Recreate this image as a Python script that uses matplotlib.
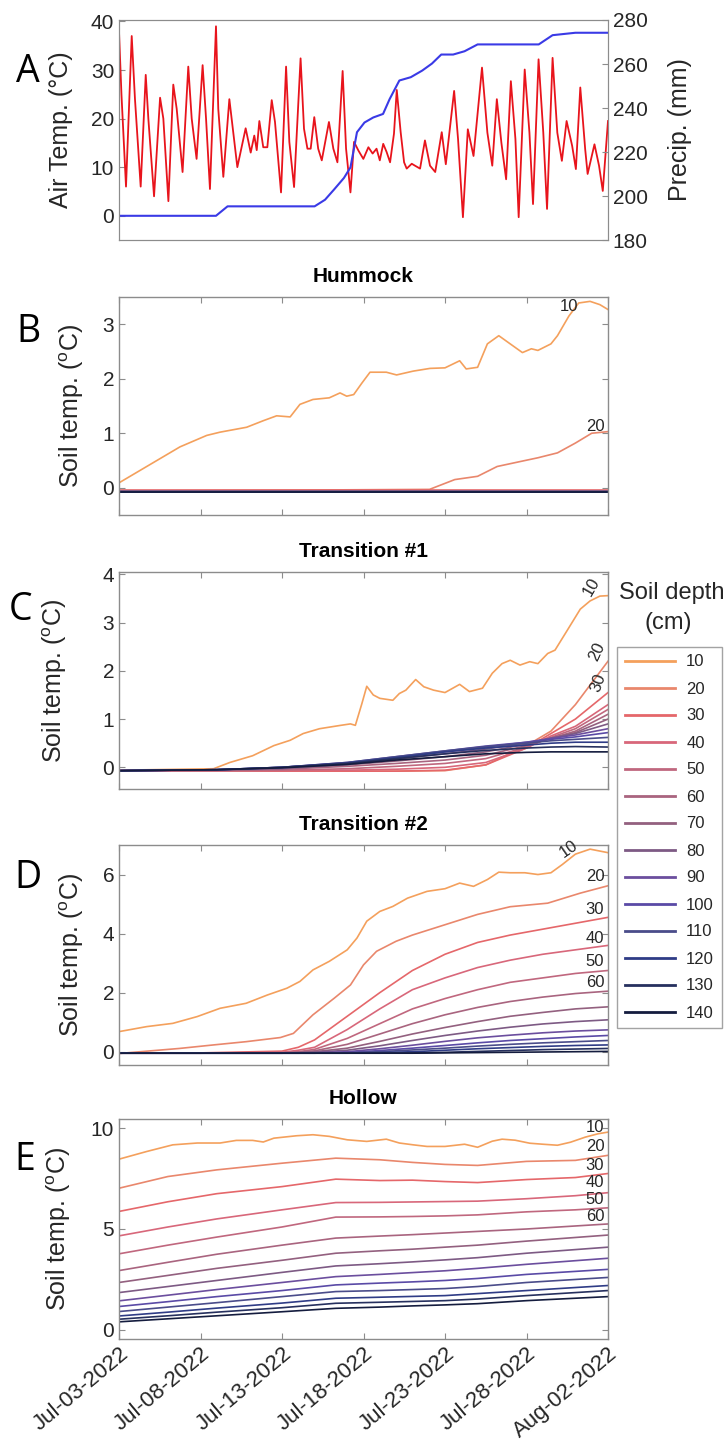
import numpy as np
import matplotlib
matplotlib.use('Agg')
import matplotlib.pyplot as plt
import matplotlib.dates as mdates
from matplotlib.lines import Line2D
from datetime import datetime

plt.rcParams['font.family'] = ['Liberation Sans', 'DejaVu Sans']
plt.rcParams['mathtext.default'] = 'regular'

start = mdates.date2num(datetime(2022, 7, 3))

# ---- A: air temperature and cumulative precipitation (days since Jul-03)
air_day = [0.0, 0.15, 0.43, 0.78, 0.98, 1.33, 1.64, 1.8, 2.15, 2.52, 2.72, 3.03, 3.33, 3.54, 3.9,
           4.25, 4.46, 4.76, 5.13, 5.34, 5.58, 5.95, 6.09, 6.4, 6.77, 7.26, 7.77, 8.08, 8.3, 8.45,
           8.61, 8.85, 9.1, 9.37, 9.57, 9.94, 10.25, 10.45, 10.74, 11.14, 11.35, 11.56, 11.76, 11.98,
           12.22, 12.44, 12.88, 13.15, 13.4, 13.72, 13.93, 14.2, 14.42, 14.69, 14.99, 15.3, 15.56,
           15.8, 16.0, 16.21, 16.42, 16.63, 16.87, 17.04, 17.28, 17.49, 17.65, 17.96, 18.16, 18.47,
           18.77, 19.08, 19.4, 19.8, 20.05, 20.56, 20.8, 21.1, 21.4, 21.75, 22.27, 22.6, 22.9, 23.18,
           23.46, 23.75, 24.04, 24.32, 24.52, 24.89, 25.18, 25.4, 25.74, 26.03, 26.26, 26.6, 26.89,
           27.17, 27.46, 27.8, 28.03, 28.3, 28.6, 28.75, 29.17, 29.45, 29.68, 30.0]
air_temp = [38, 25, 6, 37, 24, 6, 29, 20, 4, 24.3, 20, 3, 27, 22, 9,
            30.7, 20, 11.7, 31, 20, 5.5, 39, 22, 8, 24, 10, 18, 13, 16.5, 13.5,
            19.5, 14.1, 14.1, 23.8, 19.3, 4.8, 30.7, 15.2, 5.9, 32.4, 17.9, 13.8, 13.8, 20.3,
            13.8, 11.4, 19.3, 13.8, 11, 29.8, 13.8, 4.8, 15.2, 13.4, 11.7, 14.1, 12.8,
            13.8, 11.4, 14.8, 13.1, 11, 16.9, 25.9, 17.2, 11, 9.7, 10.7, 10.3, 9.7,
            15.5, 10.3, 9, 17.2, 10.6, 25.7, 15.8, -0.3, 17.8, 12.3, 30.5, 17.1, 10.3, 24,
            15, 7.5, 27.7, 15.8, -0.3, 30.1, 17.1, 2.4, 32.2, 17.1, 1.4, 32.5, 17.1,
            11.3, 19.5, 14.4, 9.6, 26.4, 13.7, 8.6, 14.7, 10.3, 5.1, 19.5]
precip_day = [0, 5.95, 6.66, 12.0, 12.64, 13.2, 13.8, 14.2, 14.6, 15.06, 15.6, 16.2, 16.6, 17.2,
              17.9, 18.6, 19.2, 19.77, 20.5, 21.2, 22.0, 25.75, 26.6, 28.0, 30.0]
precip_mm = [191, 191, 195.3, 195.3, 198.3, 203, 208.2, 213, 229, 233.4, 235.7, 237.3, 244, 252.5,
             254, 257, 260.2, 264.3, 264.3, 265.8, 268.9, 268.9, 273.1, 274.2, 274.2]

depths = [10, 20, 30, 40, 50, 60, 70, 80, 90, 100, 110, 120, 130, 140]

# ---- B: Hummock
hum_d10_day = [0, 1.7, 3.74, 5.38, 6.2, 7.83, 8.85, 9.67, 10.5, 11.1, 11.9, 12.9, 13.56, 13.97,
               14.4, 14.9, 15.4, 16.4, 17.03, 18.05, 19.08, 20.0, 20.9, 21.3, 22.0, 22.6, 23.3,
               24.0, 24.75, 25.3, 25.7, 26.5, 26.9, 27.6, 28.2, 28.9, 29.5, 30.0]
hum_d10 = [0.09, 0.39, 0.75, 0.96, 1.02, 1.11, 1.23, 1.32, 1.3, 1.53, 1.62, 1.65, 1.74, 1.68,
           1.71, 1.92, 2.12, 2.12, 2.07, 2.14, 2.19, 2.2, 2.33, 2.18, 2.21, 2.64, 2.79,
           2.64, 2.48, 2.55, 2.52, 2.64, 2.79, 3.15, 3.39, 3.42, 3.36, 3.27]
hum_d20_day = [0, 19.05, 20.6, 22.0, 23.2, 24.6, 25.7, 26.9, 28.0, 29.0, 30.0]
hum_d20 = [-0.06, -0.03, 0.15, 0.21, 0.39, 0.48, 0.55, 0.64, 0.82, 1.0, 1.03]
hum_deep_day = [0, 30]
hum_deep = [-0.05, -0.055, -0.06, -0.06, -0.065, -0.065, -0.07, -0.07, -0.075, -0.075, -0.08, -0.08]

# ---- C: Transition #1
tr1_d10_day = [0, 5.8, 6.8, 8.2, 9.5, 10.5, 11.3, 12.3, 13.6, 14.2, 14.5, 14.9, 15.2, 15.6, 16.0,
               16.8, 17.2, 17.6, 18.2, 18.7, 19.3, 20.0, 20.9, 21.5, 22.3, 22.9, 23.5, 24.0, 24.6,
               25.2, 25.7, 26.3, 26.75, 27.5, 28.3, 28.9, 29.5, 30.0]
tr1_d10 = [-0.06, -0.03, 0.1, 0.24, 0.45, 0.56, 0.7, 0.8, 0.87, 0.9, 0.87, 1.32, 1.68, 1.5, 1.43,
           1.39, 1.53, 1.6, 1.82, 1.67, 1.6, 1.55, 1.72, 1.57, 1.64, 1.95, 2.15, 2.22, 2.12,
           2.19, 2.15, 2.36, 2.43, 2.84, 3.28, 3.45, 3.55, 3.56]
tr1_day = [0, 6, 10, 14, 17, 20, 22.5, 25, 26.5, 28, 30]
tr1_deep = [
    [-0.07, -0.07, -0.08, -0.08, -0.08, -0.07, 0.05, 0.45, 0.75, 1.3, 2.2],
    [-0.07, -0.07, -0.08, -0.08, -0.08, -0.06, 0.05, 0.4, 0.7, 1.0, 1.55],
    [-0.07, -0.07, -0.07, -0.06, -0.04, 0.0, 0.1, 0.4, 0.65, 0.85, 1.3],
    [-0.07, -0.07, -0.06, -0.03, 0.02, 0.08, 0.18, 0.42, 0.62, 0.8, 1.2],
    [-0.07, -0.06, -0.04, 0.02, 0.08, 0.15, 0.25, 0.45, 0.6, 0.75, 1.1],
    [-0.07, -0.06, -0.03, 0.05, 0.13, 0.22, 0.32, 0.48, 0.6, 0.72, 1.0],
    [-0.07, -0.05, -0.02, 0.07, 0.17, 0.28, 0.38, 0.5, 0.6, 0.7, 0.9],
    [-0.07, -0.05, -0.01, 0.09, 0.2, 0.32, 0.42, 0.52, 0.6, 0.67, 0.8],
    [-0.07, -0.05, 0.0, 0.1, 0.22, 0.34, 0.44, 0.52, 0.58, 0.63, 0.72],
    [-0.07, -0.05, 0.0, 0.1, 0.22, 0.34, 0.43, 0.5, 0.55, 0.58, 0.62],
    [-0.07, -0.05, 0.0, 0.09, 0.2, 0.32, 0.4, 0.46, 0.5, 0.52, 0.52],
    [-0.07, -0.05, 0.0, 0.08, 0.18, 0.28, 0.35, 0.4, 0.42, 0.43, 0.42],
    [-0.07, -0.05, -0.01, 0.06, 0.15, 0.22, 0.28, 0.31, 0.32, 0.32, 0.32],
]

# ---- D: Transition #2
tr2_d10_day = [0, 1.7, 3.3, 4.8, 6.2, 7.8, 9.1, 10.3, 11.1, 11.9, 12.9, 14.0, 14.6, 15.2, 16.0,
               16.8, 17.7, 18.9, 20.0, 20.9, 21.75, 22.6, 23.3, 24.0, 24.9, 25.7, 26.5, 27.2, 28.0,
               28.9, 30.0]
tr2_d10 = [0.68, 0.85, 0.96, 1.19, 1.47, 1.64, 1.92, 2.15, 2.38, 2.77, 3.06, 3.45, 3.85, 4.42, 4.75,
           4.92, 5.2, 5.43, 5.52, 5.71, 5.6, 5.83, 6.08, 6.06, 6.06, 6.0, 6.06, 6.34, 6.69,
           6.86, 6.74]
tr2_d20_day = [0, 3.7, 5.8, 7.8, 9.9, 10.7, 11.9, 13.2, 14.2, 15.0, 15.8, 17.0, 18.0, 20.0, 22.0,
               24.0, 26.3, 28.3, 30.0]
tr2_d20 = [-0.06, 0.11, 0.23, 0.34, 0.48, 0.62, 1.25, 1.81, 2.26, 2.94, 3.4, 3.74, 3.95, 4.3, 4.65,
           4.91, 5.03, 5.37, 5.62]
tr2_day = [0, 5, 10, 11, 12, 14, 16, 18, 20, 22, 24, 26, 28, 30]
tr2_deep = [
    [-0.05, -0.04, 0.02, 0.15, 0.4, 1.2, 2.0, 2.75, 3.3, 3.7, 3.95, 4.15, 4.35, 4.55],
    [-0.05, -0.05, -0.02, 0.05, 0.15, 0.75, 1.45, 2.1, 2.5, 2.85, 3.1, 3.3, 3.45, 3.6],
    [-0.05, -0.05, -0.03, 0.0, 0.08, 0.45, 0.95, 1.45, 1.8, 2.1, 2.35, 2.5, 2.65, 2.75],
    [-0.05, -0.05, -0.04, -0.02, 0.03, 0.25, 0.6, 0.95, 1.25, 1.5, 1.7, 1.85, 1.97, 2.05],
    [-0.05, -0.05, -0.05, -0.03, 0.0, 0.12, 0.35, 0.6, 0.82, 1.02, 1.2, 1.33, 1.45, 1.52],
    [-0.05, -0.05, -0.05, -0.04, -0.02, 0.05, 0.2, 0.38, 0.55, 0.7, 0.83, 0.94, 1.02, 1.08],
    [-0.05, -0.05, -0.05, -0.05, -0.04, 0.0, 0.1, 0.22, 0.35, 0.47, 0.56, 0.64, 0.7, 0.74],
    [-0.05, -0.05, -0.05, -0.05, -0.05, -0.03, 0.04, 0.12, 0.21, 0.3, 0.38, 0.44, 0.5, 0.55],
    [-0.05, -0.05, -0.05, -0.05, -0.05, -0.04, 0.0, 0.06, 0.12, 0.19, 0.25, 0.3, 0.34, 0.38],
    [-0.05, -0.05, -0.05, -0.05, -0.05, -0.05, -0.03, 0.0, 0.05, 0.1, 0.14, 0.18, 0.21, 0.23],
    [-0.05, -0.05, -0.05, -0.05, -0.05, -0.05, -0.05, -0.04, -0.02, 0.01, 0.04, 0.07, 0.09, 0.11],
    [-0.05, -0.05, -0.05, -0.05, -0.05, -0.05, -0.05, -0.05, -0.04, -0.03, -0.02, -0.01, 0.0, 0.01],
]

# ---- E: Hollow
hol_d10_day = [0, 1.7, 3.3, 4.8, 6.2, 7.2, 8.2, 8.85, 9.5, 10.9, 11.9, 12.9, 14.0, 15.2, 16.4, 17.2,
               18.05, 18.9, 20.0, 21.2, 22.0, 22.9, 23.5, 24.3, 25.2, 26.0, 26.9, 27.7, 28.6, 29.4, 30.0]
hol_d10 = [8.46, 8.84, 9.17, 9.26, 9.26, 9.39, 9.39, 9.31, 9.5, 9.62, 9.67, 9.59, 9.42, 9.34, 9.45, 9.26,
           9.17, 9.09, 9.09, 9.2, 9.05, 9.35, 9.45, 9.4, 9.25, 9.2, 9.15, 9.3, 9.55, 9.72, 9.8]
hol_day = [0, 3, 6, 10, 13.3, 16, 18, 20, 22, 25, 28, 30]
hol_deep = [
    [7.02, 7.6, 7.93, 8.26, 8.51, 8.43, 8.3, 8.2, 8.15, 8.35, 8.4, 8.65],
    [5.87, 6.35, 6.75, 7.1, 7.47, 7.4, 7.42, 7.35, 7.3, 7.45, 7.55, 7.75],
    [4.66, 5.1, 5.5, 5.95, 6.31, 6.32, 6.34, 6.36, 6.38, 6.5, 6.65, 6.8],
    [3.77, 4.2, 4.6, 5.1, 5.59, 5.6, 5.62, 5.65, 5.7, 5.85, 5.95, 6.05],
    [2.94, 3.35, 3.75, 4.2, 4.55, 4.65, 4.72, 4.8, 4.88, 5.0, 5.15, 5.25],
    [2.35, 2.7, 3.05, 3.45, 3.8, 3.92, 4.0, 4.1, 4.2, 4.4, 4.58, 4.7],
    [1.85, 2.15, 2.45, 2.85, 3.17, 3.28, 3.37, 3.47, 3.58, 3.8, 3.98, 4.1],
    [1.44, 1.72, 2.0, 2.35, 2.64, 2.75, 2.84, 2.93, 3.05, 3.25, 3.43, 3.55],
    [1.16, 1.4, 1.65, 1.95, 2.23, 2.32, 2.38, 2.45, 2.55, 2.75, 2.9, 3.0],
    [0.91, 1.13, 1.35, 1.65, 1.9, 1.95, 2.0, 2.05, 2.15, 2.35, 2.5, 2.6],
    [0.69, 0.88, 1.08, 1.33, 1.57, 1.62, 1.66, 1.7, 1.8, 1.95, 2.1, 2.2],
    [0.53, 0.7, 0.88, 1.1, 1.32, 1.37, 1.41, 1.45, 1.53, 1.7, 1.85, 1.95],
    [0.4, 0.55, 0.7, 0.9, 1.07, 1.13, 1.19, 1.24, 1.3, 1.45, 1.57, 1.65],
]

depth_colors = ['#f4a05c', '#e9876c', '#e5676a', '#d8677a', '#c0677e', '#a9647f', '#93607f',
                '#7d5a84', '#6b4e9e', '#5a4aa6', '#4a4c8a', '#2f3c86', '#26305e', '#141c3e']

W, H = 728, 1442
fig = plt.figure(figsize=(W / 100, H / 100), dpi=100)
L, R = 119, 608


def px_axes(y0, y1):
    return fig.add_axes([L / W, 1 - y1 / H, (R - L) / W, (y1 - y0) / H])


def d(days):
    return start + np.asarray(days, dtype=float)


GRAY = '#8c8c8c'
TXT = '#262626'


def style(ax, lab_x, ylim, yticks, bottom_labels=False):
    for s in ax.spines.values():
        s.set_color(GRAY)
        s.set_linewidth(1.0)
    ax.set_xlim(start, start + 30)
    ax.set_ylim(*ylim)
    ax.set_yticks(yticks)
    ax.set_xticks(start + np.arange(0, 31, 5))
    ax.tick_params(direction='in', length=4, width=0.8, color=GRAY, labelcolor=TXT,
                   labelsize=15, right=True, top=True, labelbottom=bottom_labels)
    ax.set_ylabel('Soil temp. ($^{o}$C)', fontsize=18, color=TXT)
    ax.yaxis.set_label_coords((lab_x - L) / (R - L), 0.5)


# ---- panel A
axA = px_axes(20, 240)
axA.plot(d(air_day), air_temp, color='#e8141c', lw=1.3)
axA.set_xlim(start, start + 30)
axA.set_ylim(-5, 40.3)
axA.set_yticks([0, 10, 20, 30, 40])
axA.set_xticks([])
for s in axA.spines.values():
    s.set_color(GRAY)
axA.tick_params(direction='in', length=4, color=GRAY, labelcolor=TXT, labelsize=15)
axA.set_ylabel('Air Temp. (°C)', fontsize=18, color=TXT)
axA.yaxis.set_label_coords((73 - L) / (R - L), 0.5)
axA2 = axA.twinx()
axA2.plot(d(precip_day), precip_mm, color='#3a3ae6', lw=1.5)
axA2.set_ylim(180, 280)
axA2.set_yticks([180, 200, 220, 240, 260, 280])
axA2.tick_params(direction='in', length=4, color=GRAY, labelcolor=TXT, labelsize=15)
for s in axA2.spines.values():
    s.set_color(GRAY)
axA2.set_ylabel('Precip. (mm)', fontsize=18, color=TXT)
axA2.yaxis.set_label_coords((668 - L) / (R - L), 0.5)

lw = 1.2
# ---- panel B
axB = px_axes(297, 515)
axB.plot(d(hum_d10_day), hum_d10, color=depth_colors[0], lw=lw)
axB.plot(d(hum_d20_day), hum_d20, color=depth_colors[1], lw=lw)
for k, v in enumerate(hum_deep):
    axB.plot(d(hum_deep_day), [v, v], color=depth_colors[k + 2], lw=lw)
style(axB, 86, (-0.5, 3.5), [0, 1, 2, 3])
axB.set_title('Hummock', fontsize=15, fontweight='bold', color='black', pad=11)

# ---- panel C
axC = px_axes(572, 789)
axC.plot(d(tr1_d10_day), tr1_d10, color=depth_colors[0], lw=lw)
for k, vals in enumerate(tr1_deep):
    axC.plot(d(tr1_day), vals, color=depth_colors[k + 1], lw=lw)
style(axC, 69, (-0.45, 4.05), [0, 1, 2, 3, 4])
axC.set_title('Transition #1', fontsize=15, fontweight='bold', color='black', pad=11)

# ---- panel D
axD = px_axes(845, 1065)
axD.plot(d(tr2_d10_day), tr2_d10, color=depth_colors[0], lw=lw)
axD.plot(d(tr2_d20_day), tr2_d20, color=depth_colors[1], lw=lw)
for k, vals in enumerate(tr2_deep):
    axD.plot(d(tr2_day), vals, color=depth_colors[k + 2], lw=lw)
style(axD, 86, (-0.45, 7.0), [0, 2, 4, 6])
axD.set_title('Transition #2', fontsize=15, fontweight='bold', color='black', pad=11)

# ---- panel E
axE = px_axes(1119, 1339)
axE.plot(d(hol_d10_day), hol_d10, color=depth_colors[0], lw=lw)
for k, vals in enumerate(hol_deep):
    axE.plot(d(hol_day), vals, color=depth_colors[k + 1], lw=lw)
style(axE, 73, (-0.45, 10.45), [0, 5, 10], bottom_labels=True)
axE.set_title('Hollow', fontsize=15, fontweight='bold', color='black', pad=11)
axE.xaxis.set_major_formatter(mdates.DateFormatter('%b-%d-%Y'))
axE.tick_params(axis='x', pad=3)
for t in axE.get_xticklabels():
    t.set_rotation(40)
    t.set_ha('right')
    t.set_rotation_mode('anchor')
    t.set_fontsize(16)

# depth labels on the lines
lab_kw = dict(fontsize=12, color=TXT, ha='center', va='center')
axB.text(start + 27.6, 3.32, '10', **lab_kw)
axB.text(start + 29.2, 1.13, '20', **lab_kw)
axC.text(start + 29.0, 3.75, '10', rotation=60, **lab_kw)
axC.text(start + 29.3, 2.4, '20', rotation=65, **lab_kw)
axC.text(start + 29.4, 1.75, '30', rotation=70, **lab_kw)
axD.text(start + 27.6, 6.85, '10', rotation=35, **lab_kw)
for txt, yv in zip(['20', '30', '40', '50', '60'], [5.95, 4.8, 3.85, 3.05, 2.35]):
    axD.text(start + 29.2, yv, txt, **lab_kw)
for txt, yv in zip(['10', '20', '30', '40', '50', '60'], [10.05, 9.1, 8.15, 7.3, 6.45, 5.6]):
    axE.text(start + 29.2, yv, txt, **lab_kw)

# panel letters
for letter, (x, y) in zip('ABCDE', [(28, 72), (28, 332), (21, 610), (28, 878), (25, 1160)]):
    fig.text(x / W, 1 - y / H, letter, fontsize=27, ha='center', va='center',
             family=['Open Sans', 'DejaVu Sans'], color='black')

# legend
handles = [Line2D([], [], color=c, lw=2) for c in depth_colors]
leg = fig.legend(handles, [str(v) for v in depths], loc='upper left',
                 bbox_to_anchor=(617 / W, 1 - 647 / H), fontsize=12, frameon=True,
                 fancybox=False, edgecolor=GRAY, handlelength=3.0, labelspacing=0.72,
                 borderpad=0.45, handletextpad=0.7, borderaxespad=0)
leg.get_frame().set_linewidth(1.0)
for t in leg.get_texts():
    t.set_color(TXT)
fig.text(672 / W, 1 - 593 / H, 'Soil depth', fontsize=17, ha='center', va='center', color=TXT)
fig.text(668 / W, 1 - 623 / H, '(cm)', fontsize=17, ha='center', va='center', color=TXT)

fig.savefig('out.png', dpi=100)
